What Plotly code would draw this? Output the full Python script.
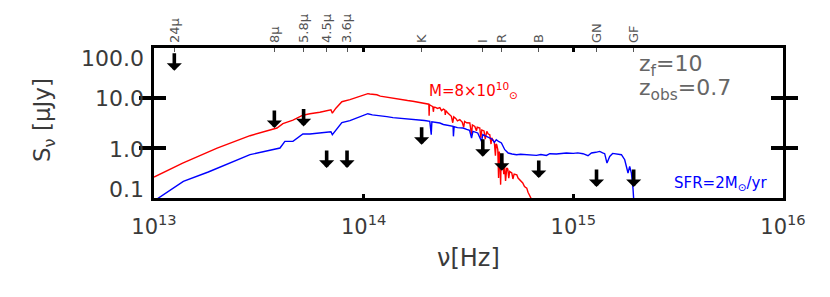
import numpy as np
import plotly.graph_objects as go

# ---------------- data ----------------
red_nu = [1.00e13, 1.37e13, 2.00e13, 2.87e13, 3.86e13, 4.12e13, 4.60e13, 5.13e13, 5.54e13,
          6.18e13, 6.98e13, 7.09e13, 7.37e13, 7.87e13, 8.60e13, 9.38e13, 9.90e13, 1.02e14,
          1.047e14, 1.07e14, 1.10e14, 1.156e14, 1.20e14, 1.25e14, 1.29e14, 1.35e14, 1.42e14,
          1.488e14, 1.55e14, 1.62e14, 1.716e14, 1.80e14, 1.87e14, 1.936e14, 2.00e14, 2.046e14,
          2.052e14, 2.060e14, 2.10e14, 2.137e14, 2.15e14, 2.165e14, 2.20e14, 2.25e14, 2.308e14,
          2.35e14, 2.40e14, 2.438e14, 2.45e14, 2.47e14, 2.52e14, 2.576e14, 2.62e14, 2.66e14,
          2.69e14, 2.75e14, 2.80e14, 2.874e14, 2.95e14, 3.00e14, 3.03e14, 3.10e14, 3.208e14,
          3.27e14, 3.30e14, 3.39e14, 3.45e14, 3.48e14, 3.58e14, 3.62e14, 3.66e14, 3.75e14,
          3.80e14, 3.866e14, 3.93e14, 3.995e14, 4.05e14, 4.08e14, 4.129e14, 4.20e14, 4.25e14,
          4.28e14, 4.314e14, 4.362e14, 4.40e14, 4.43e14, 4.459e14, 4.50e14, 4.53e14, 4.608e14,
          4.66e14, 4.70e14, 4.75e14, 4.815e14, 4.87e14, 4.92e14, 4.97e14, 5.087e14, 5.15e14,
          5.22e14, 5.374e14, 5.45e14, 5.553e14, 5.65e14, 5.738e14, 5.85e14, 5.996e14, 6.08e14,
          6.163e14, 6.265e14, 6.35e14]
red_S = [0.263, 0.497, 0.99, 1.76, 2.51, 3.06, 3.60, 4.53, 4.85,
         5.20, 5.83, 4.97, 6.25, 8.43, 9.25, 10.4, 11.5, 11.9,
         12.2, 12.0, 11.8, 11.6, 10.9, 10.6, 10.1, 9.9, 9.5,
         9.25, 9.1, 8.9, 8.63, 8.3, 8.0, 7.87, 7.6, 7.52,
         4.43, 7.35, 7.0, 6.70, 5.3, 6.6, 6.5, 6.2, 6.4,
         5.6, 6.0, 5.8, 4.6, 5.6, 5.0, 4.63, 4.3, 3.2,
         4.2, 3.9, 3.5, 3.68, 3.3, 2.6, 3.4, 3.2, 3.16,
         1.85, 2.9, 2.70, 2.2, 2.6, 2.51, 1.6, 2.3, 2.2,
         1.5, 2.15, 1.9, 1.85, 1.2, 1.6, 1.47, 1.3, 0.7,
         1.2, 1.16, 0.925, 0.25, 0.85, 0.735, 0.185, 0.65, 0.50,
         0.30, 0.45, 0.22, 0.40, 0.38, 0.25, 0.34, 0.316, 0.24,
         0.30, 0.292, 0.25, 0.232, 0.21, 0.20, 0.17, 0.158, 0.13,
         0.116, 0.10, 0.09]

blue_nu = [1.00e13, 1.38e13, 1.815e13, 2.87e13, 3.99e13, 4.21e13, 4.60e13, 5.13e13, 5.54e13,
           6.18e13, 6.98e13, 7.09e13, 7.37e13, 7.87e13, 8.60e13, 9.38e13, 1.00e14, 1.047e14,
           1.10e14, 1.156e14, 1.22e14, 1.29e14, 1.38e14, 1.488e14, 1.60e14, 1.716e14, 1.853e14,
           1.95e14, 2.068e14, 2.10e14, 2.115e14, 2.20e14, 2.308e14, 2.40e14, 2.50e14, 2.60e14,
           2.67e14, 2.68e14, 2.70e14, 2.80e14, 2.98e14, 3.10e14, 3.20e14, 3.27e14, 3.32e14,
           3.50e14, 3.65e14, 3.70e14, 3.85e14, 3.995e14, 4.10e14, 4.20e14, 4.29e14, 4.40e14,
           4.54e14, 4.71e14, 4.89e14, 5.10e14, 5.36e14, 5.60e14, 5.98e14, 6.30e14, 6.67e14,
           7.00e14, 7.44e14, 7.72e14, 8.30e14, 9.27e14, 1.00e15, 1.05e15, 1.112e15, 1.175e15,
           1.22e15, 1.28e15, 1.336e15, 1.38e15, 1.411e15, 1.447e15, 1.491e15, 1.54e15, 1.575e15,
           1.63e15, 1.696e15, 1.758e15, 1.823e15, 1.857e15, 1.892e15, 1.925e15, 1.94e15, 2.00e15]
blue_S = [0.087, 0.215, 0.331, 0.735, 1.0, 1.355, 1.355, 1.905, 1.905,
          2.02, 2.12, 1.85, 2.32, 3.21, 3.52, 4.04, 4.5, 4.85,
          4.6, 4.53, 4.35, 4.23, 4.05, 3.94, 3.85, 3.77, 3.68,
          3.55, 3.40, 1.85, 3.35, 3.25, 3.16, 2.95, 2.85, 2.75,
          2.70, 1.71, 2.68, 2.55, 2.51, 2.35, 2.25, 1.585, 2.15,
          2.0, 1.355, 1.85, 1.70, 1.585, 1.5, 1.3, 1.465, 1.35,
          1.26, 0.925, 0.794, 0.76, 0.735, 0.75, 0.735, 0.72, 0.711,
          0.74, 0.711, 0.769, 0.76, 0.794, 0.78, 0.80, 0.769, 0.701,
          0.794, 0.82, 0.855, 0.80, 0.769, 0.50, 0.679, 0.78, 0.769,
          0.75, 0.735, 0.583, 0.316, 0.429, 0.316, 0.158, 0.095, 0.09]

filt_labels = ["24μ", "8μ", "5.8μ", "4.5μ", "3.6μ", "K", "I", "R", "B", "GN", "GF"]
filt_nu = [1.25e13, 3.75e13, 5.17e13, 6.66e13, 8.33e13, 1.89e14, 3.70e14, 4.56e14, 6.84e14, 1.29e15, 1.94e15]
limit_S = [35, 2.5, 2.7, 0.40, 0.40, 1.16, 0.67, 0.35, 0.25, 0.166, 0.166]

x_tickvals = [1e13, 1e14, 1e15, 1e16]
x_ticktext = ["10<sup>13</sup>", "10<sup>14</sup>", "10<sup>15</sup>", "10<sup>16</sup>"]
y_tickvals = [100, 10, 1, 0.1]
y_ticktext = ["100.0", "10.0", "1.0", "0.1"]
y_label_shift = [-10, 0, -1, 9]

FONT = "DejaVu Sans"
TXT = "#3a3a3a"

fig = go.Figure()
fig.add_trace(go.Scatter(x=red_nu, y=red_S, mode="lines",
                         line=dict(color="#ff0000", width=1.4), showlegend=False))
fig.add_trace(go.Scatter(x=blue_nu, y=blue_S, mode="lines",
                         line=dict(color="#0000ff", width=1.4), showlegend=False))
# invisible trace to activate the top (filter) axis
fig.add_trace(go.Scatter(x=filt_nu, y=limit_S, xaxis="x2", mode="markers",
                         marker=dict(opacity=0), showlegend=False, hoverinfo="skip"))

annotations = []
for nu, s in zip(filt_nu, limit_S):
    annotations.append(dict(x=np.log10(nu), y=np.log10(s), xref="x", yref="y",
                            text="", showarrow=True, ax=0, ay=-19,
                            arrowhead=1, arrowsize=0.7, arrowwidth=3.6,
                            arrowcolor="black"))
for v, t, sh in zip(y_tickvals, y_ticktext, y_label_shift):
    annotations.append(dict(x=0, y=np.log10(v), xref="paper", yref="y", text=t,
                            showarrow=False, xanchor="right", yanchor="middle",
                            xshift=-8, yshift=sh,
                            font=dict(family=FONT, size=22, color=TXT)))
annotations += [
    dict(x=0, y=0.5, xref="paper", yref="paper", xanchor="center", yanchor="middle",
         xshift=-110, yshift=3, textangle=-90,
         text="S<sub>ν</sub> [μJy]", showarrow=False,
         font=dict(family=FONT, size=23, color=TXT)),
    dict(x=0.5, y=0, xref="paper", yref="paper", xanchor="center", yanchor="middle",
         yshift=-60, text="ν[Hz]", showarrow=False,
         font=dict(family=FONT, size=24, color=TXT)),
    dict(x=0.434, y=0.72, xref="paper", yref="paper", xanchor="left", yanchor="middle",
         text="M=8×10<sup>10</sup><sub>⊙</sub>", showarrow=False,
         font=dict(family=FONT, size=15, color="#ff0000")),
    dict(x=0.824, y=0.10, xref="paper", yref="paper", xanchor="left", yanchor="middle",
         text="SFR=2M<sub>⊙</sub>/yr", showarrow=False,
         font=dict(family=FONT, size=15, color="#0000ff")),
    dict(x=0.768, y=0.885, xref="paper", yref="paper", xanchor="left", yanchor="middle",
         text="z<sub>f</sub>=10", showarrow=False,
         font=dict(family=FONT, size=22, color="#666666")),
    dict(x=0.768, y=0.725, xref="paper", yref="paper", xanchor="left", yanchor="middle",
         text="z<sub>obs</sub>=0.7", showarrow=False,
         font=dict(family=FONT, size=22, color="#666666")),
]

# page body has an 8px default margin: figure is 822x289 so the plot box lands
# at x 154..783, y 48..198 of the 830x297 window
fig.update_layout(
    width=822, height=289,
    margin=dict(l=146, r=47, t=40, b=99),
    paper_bgcolor="white", plot_bgcolor="white",
    font=dict(family=FONT, color=TXT),
    annotations=annotations,
    xaxis=dict(type="log", range=[13, 16], tickvals=x_tickvals, ticktext=x_ticktext,
               ticks="inside", ticklen=4, tickwidth=3, tickcolor="black",
               showline=True, linewidth=3, linecolor="black", mirror="allticks",
               showgrid=False, zeroline=False, automargin=False,
               ticklabelstandoff=8,
               tickfont=dict(family=FONT, size=21, color=TXT)),
    xaxis2=dict(type="log", range=[13, 16], overlaying="x", side="top",
                tickvals=filt_nu, ticktext=filt_labels, tickangle=-90,
                ticks="inside", ticklen=4, tickwidth=1, tickcolor="#555555",
                showline=False, showgrid=False, zeroline=False, automargin=False,
                ticklabelstandoff=4,
                tickfont=dict(family=FONT, size=13, color="#555555")),
    yaxis=dict(type="log", range=[-1, 2], tickvals=y_tickvals, showticklabels=False,
               ticks="inside", ticklen=12, tickwidth=4, tickcolor="black",
               showline=True, linewidth=3, linecolor="black", mirror="allticks",
               showgrid=False, zeroline=False, automargin=False),
)

fig.write_html("out.html")
